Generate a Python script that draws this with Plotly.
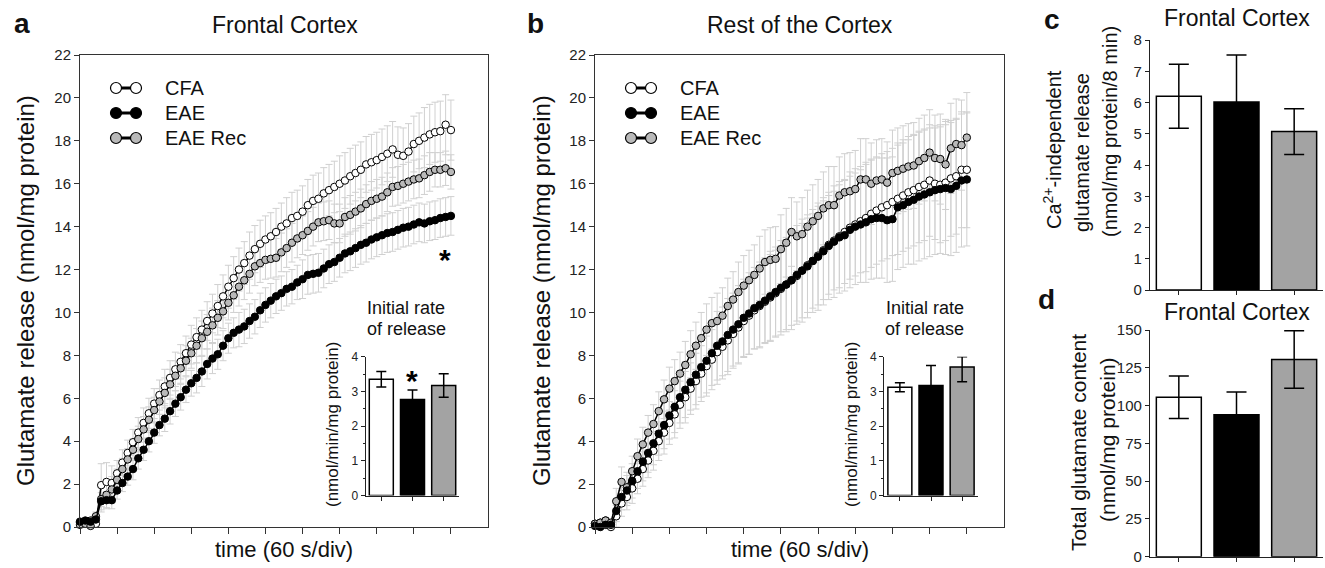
import plotly.graph_objects as go

W, H = 1325, 568


def px(x):
    return x / W


def py(y):
    return 1 - y / H


FONT = "Liberation Sans, Arial, Helvetica, sans-serif"
AX = "#333333"
ERR_GREY = "#d0d0d0"
GREY_MARK = "#b9b9b9"

# ---------------- data ----------------
TIME_MIN = [round(i / 7, 4) for i in range(71)]          # sample times (min)
TIME_TICKS = [0, 1, 2, 3, 4, 5, 6, 7, 8, 9, 10]

GROUPS = ["CFA", "EAE", "EAE Rec"]
BAR_FILLS = ["white", "black", "#a3a3a3"]
MARK_FILLS = ["white", "black", GREY_MARK]

# panel a : Frontal Cortex
A_CFA = [0.2, 0.25, 0.3, 0.15, 1.95, 2.1, 2.05, 2.5, 3.0, 3.45,
         3.95, 4.4, 4.85, 5.3, 5.75, 6.15, 6.55, 6.95, 7.35, 7.7,
         8.1, 8.5, 8.85, 9.2, 9.6, 9.95, 10.3, 10.75, 11.2, 11.6,
         12.0, 12.3, 12.65, 12.95, 13.2, 13.4, 13.55, 13.75, 14.0, 14.15,
         14.4, 14.5, 14.7, 15.0, 15.2, 15.3, 15.55, 15.7, 15.85, 16.0,
         16.15, 16.35, 16.5, 16.65, 16.9, 17.0, 17.1, 17.25, 17.4, 17.6,
         17.35, 17.3, 17.5, 17.85, 18.0, 18.15, 18.3, 18.4, 18.45, 18.75,
         18.5]
A_EAE = [0.25, 0.3, 0.25, 0.35, 1.2, 1.25, 1.25, 1.7, 2.05, 2.35,
         2.7, 3.2, 3.6, 4.0, 4.4, 4.75, 5.05, 5.4, 5.75, 6.05,
         6.4, 6.7, 6.95, 7.25, 7.6, 7.85, 8.05, 8.45, 8.8, 9.05,
         9.2, 9.35, 9.6, 9.8, 10.1, 10.35, 10.55, 10.75, 10.9, 11.1,
         11.2, 11.4, 11.55, 11.75, 11.8, 11.85, 12.05, 12.25, 12.35, 12.55,
         12.75, 12.85, 13.0, 13.15, 13.25, 13.4, 13.5, 13.6, 13.7, 13.75,
         13.85, 13.95, 14.0, 14.1, 14.2, 14.15, 14.25, 14.3, 14.4, 14.45,
         14.5]
A_REC = [0.1, 0.15, 0.05, 0.5, 1.3, 1.5, 1.75, 2.2, 2.7, 3.15,
         3.6, 4.1, 4.55, 5.0, 5.45, 5.85, 6.25, 6.65, 7.05, 7.4,
         7.75, 8.1, 8.45, 8.8, 9.1, 9.4, 9.75, 10.05, 10.45, 10.8,
         11.2, 11.5, 11.8, 12.15, 12.3, 12.45, 12.5, 12.55, 12.8, 13.0,
         13.25, 13.45, 13.6, 13.8, 14.0, 14.2, 14.25, 14.3, 14.15, 14.15,
         14.45, 14.55, 14.7, 14.85, 15.05, 15.2, 15.3, 15.4, 15.6, 15.85,
         15.9, 16.0, 16.1, 16.2, 16.25, 16.4, 16.55, 16.65, 16.65, 16.72,
         16.55]
A_CFA_ERR = [0.1, 0.1, 0.1, 0.2, 1.0, 0.9, 0.8,
             0.6, 0.6, 0.6, 0.6, 0.7, 0.7, 0.7,
             0.7, 0.7, 0.8, 0.8, 0.8, 0.8, 0.8,
             0.9, 0.9, 0.9, 0.9, 0.9, 1.0, 1.0,
             1.0, 1.0, 1.0, 1.0, 1.1, 1.1, 1.1,
             1.1, 1.1, 1.1, 1.1, 1.2, 1.2, 1.2,
             1.2, 1.2, 1.2, 1.2, 1.2, 1.2, 1.2,
             1.3, 1.3, 1.3, 1.3, 1.3, 1.3, 1.3,
             1.3, 1.3, 1.3, 1.3, 1.3, 1.3, 1.3,
             1.3, 1.3, 1.4, 1.4, 1.4, 1.4, 1.4, 1.4]
A_EAE_ERR = [0.1, 0.1, 0.1, 0.1, 0.4, 0.4, 0.4,
             0.4, 0.4, 0.4, 0.5, 0.5, 0.5, 0.5,
             0.5, 0.5, 0.6, 0.6, 0.6, 0.6, 0.6,
             0.6, 0.7, 0.7, 0.7, 0.7, 0.7, 0.7,
             0.7, 0.7, 0.8, 0.8, 0.8, 0.8, 0.8,
             0.8, 0.8, 0.8, 0.8, 0.8, 0.8, 0.8,
             0.9, 0.9, 0.9, 0.9, 0.9, 0.9, 0.9,
             0.9, 0.9, 0.9, 0.9, 0.9, 0.9, 0.9,
             0.9, 0.9, 0.9, 0.9, 0.9, 0.9, 0.9,
             0.9, 0.9, 0.9, 0.9, 0.9, 0.9, 0.9, 0.9]
A_REC_ERR = [0.1, 0.1, 0.1, 0.2, 0.6, 0.6, 0.6,
             0.5, 0.5, 0.5, 0.5, 0.6, 0.6, 0.6,
             0.6, 0.6, 0.7, 0.7, 0.7, 0.7, 0.7,
             0.7, 0.8, 0.8, 0.8, 0.8, 0.8, 0.8,
             0.8, 0.8, 0.9, 0.9, 0.9, 0.9, 0.9,
             0.9, 0.9, 0.9, 0.9, 0.9, 0.9, 0.9,
             0.9, 0.9, 0.9, 0.9, 0.9, 0.9, 0.9,
             0.9, 0.9, 0.9, 0.9, 0.9, 0.9, 0.9,
             0.9, 0.9, 0.9, 0.9, 0.9, 0.9, 0.9,
             0.9, 0.9, 0.9, 0.9, 0.8, 0.8, 0.8, 0.8]

# panel b : Rest of the Cortex
B_CFA = [0.15, 0.2, 0.3, 0.0, 0.5, 1.1, 1.4, 1.8, 2.25, 2.7,
         3.1, 3.55, 4.0, 4.4, 4.85, 5.25, 5.7, 6.05, 6.45, 6.8,
         7.15, 7.5, 7.8, 8.15, 8.4, 8.7, 9.0, 9.3, 9.6, 9.85,
         10.1, 10.3, 10.5, 10.7, 10.9, 11.1, 11.3, 11.5, 11.7, 11.95,
         12.2, 12.4, 12.65, 12.9, 13.15, 13.35, 13.55, 13.75, 13.95, 14.1,
         14.25, 14.4, 14.6, 14.75, 14.9, 15.0, 15.15, 15.3, 15.45, 15.6,
         15.7, 15.85, 15.95, 16.15, 16.0, 15.95, 16.05, 16.25, 16.35, 16.65,
         16.65]
B_EAE = [0.05, 0.0, 0.1, 0.1, 0.75, 1.4, 1.7, 2.15, 2.6, 3.05,
         3.45, 3.9, 4.35, 4.75, 5.2, 5.6, 6.05, 6.4, 6.75, 7.1,
         7.45, 7.75, 8.1, 8.45, 8.65, 8.95, 9.2, 9.45, 9.75, 9.95,
         10.2, 10.35, 10.55, 10.75, 10.95, 11.15, 11.3, 11.5, 11.75, 11.95,
         12.15, 12.4, 12.6, 12.85, 13.1, 13.3, 13.5, 13.6, 13.85, 14.0,
         14.1, 14.2, 14.35, 14.4, 14.4, 14.3, 14.35, 14.9, 15.0, 15.15,
         15.25, 15.4, 15.5, 15.6, 15.7, 15.75, 15.8, 15.75, 15.9, 16.15,
         16.2]
B_REC = [0.15, 0.2, 0.3, 0.2, 1.2, 2.1, 1.85, 2.6, 3.3, 3.85,
         4.4, 4.8, 5.4, 5.95, 6.45, 6.8, 7.15, 7.55, 8.05, 8.45,
         8.8, 9.2, 9.5, 9.6, 9.85, 10.3, 10.6, 10.95, 11.25, 11.5,
         11.75, 12.05, 12.35, 12.45, 12.5, 12.95, 13.25, 13.75, 13.55, 13.65,
         14.0, 14.25, 14.5, 14.85, 15.0, 15.0, 15.45, 15.6, 15.65, 15.75,
         16.2, 16.2, 16.0, 16.15, 16.2, 16.05, 16.5, 16.6, 16.7, 16.8,
         16.85, 17.05, 17.2, 17.45, 17.2, 17.15, 16.9, 17.65, 17.85, 17.8,
         18.15]
B_CFA_ERR = [0.1, 0.1, 0.1, 0.1, 0.5, 0.6, 0.6,
             0.7, 0.7, 0.8, 0.8, 0.9, 0.9, 1.0,
             1.0, 1.1, 1.1, 1.2, 1.2, 1.3, 1.3,
             1.4, 1.4, 1.5, 1.5, 1.6, 1.6, 1.7,
             1.7, 1.8, 1.8, 1.9, 1.9, 2.0, 2.0,
             2.0, 2.1, 2.1, 2.1, 2.2, 2.2, 2.2,
             2.3, 2.3, 2.3, 2.3, 2.4, 2.4, 2.4,
             2.4, 2.4, 2.5, 2.5, 2.5, 2.5, 2.5,
             2.5, 2.6, 2.6, 2.6, 2.6, 2.6, 2.6,
             2.6, 2.6, 2.7, 2.7, 2.7, 2.7, 2.7, 2.7]
B_EAE_ERR = [0.1, 0.1, 0.1, 0.1, 0.5, 0.6, 0.7,
             0.8, 0.8, 0.9, 0.9, 1.0, 1.0, 1.1,
             1.1, 1.2, 1.2, 1.3, 1.3, 1.4, 1.4,
             1.5, 1.5, 1.6, 1.6, 1.7, 1.7, 1.8,
             1.8, 1.9, 1.9, 2.0, 2.0, 2.1, 2.1,
             2.2, 2.2, 2.3, 2.3, 2.4, 2.4, 2.4,
             2.5, 2.5, 2.5, 2.6, 2.6, 2.6, 2.7,
             2.7, 2.7, 2.8, 2.8, 2.8, 2.8, 2.9,
             2.9, 2.9, 2.9, 2.9, 3.0, 3.0, 3.0,
             3.0, 3.0, 3.0, 3.1, 3.1, 3.1, 3.1, 3.1]
B_REC_ERR = [0.1, 0.1, 0.1, 0.1, 0.6, 0.7, 0.7,
             0.7, 0.8, 0.8, 0.8, 0.9, 0.9, 0.9,
             1.0, 1.0, 1.0, 1.1, 1.1, 1.1, 1.2,
             1.2, 1.2, 1.3, 1.3, 1.3, 1.3, 1.4,
             1.4, 1.4, 1.4, 1.5, 1.5, 1.5, 1.5,
             1.6, 1.6, 1.6, 1.6, 1.7, 1.7, 1.7,
             1.7, 1.7, 1.8, 1.8, 1.8, 1.8, 1.8,
             1.8, 1.9, 1.9, 1.9, 1.9, 1.9, 1.9,
             2.0, 2.0, 2.0, 2.0, 2.0, 2.0, 2.0,
             2.0, 2.0, 2.1, 2.1, 2.1, 2.1, 2.1, 2.1]

# insets: initial rate of release (nmol/min/mg protein)
A_RATE = [3.35, 2.77, 3.17]
A_RATE_ERR = [0.22, 0.27, 0.34]
B_RATE = [3.12, 3.17, 3.70]
B_RATE_ERR_UP = [0.13, 0.58, 0.30]
B_RATE_ERR_DN = [0.13, 0.58, 0.42]

# panel c : Ca2+-independent release ; panel d : total glutamate content
C_VALUES = [6.20, 6.02, 5.07]
C_ERR = [1.02, 1.50, 0.73]
D_VALUES = [105.5, 94.0, 130.5]
D_ERR = [14.0, 15.0, 19.0]

# ---------------- figure ----------------
fig = go.Figure()

SERIES_A = [(A_CFA, A_CFA_ERR, 0), (A_REC, A_REC_ERR, 2), (A_EAE, A_EAE_ERR, 1)]
SERIES_B = [(B_CFA, B_CFA_ERR, 0), (B_REC, B_REC_ERR, 2), (B_EAE, B_EAE_ERR, 1)]

for series, xa, ya in [(SERIES_A, "x", "y"), (SERIES_B, "x3", "y3")]:
    for vals, err, g in series:
        fig.add_trace(go.Scatter(
            x=TIME_MIN, y=vals, mode="markers", xaxis=xa, yaxis=ya,
            marker=dict(size=1, color="rgba(0,0,0,0)"),
            error_y=dict(type="data", array=err, color=ERR_GREY, thickness=1, width=3.5),
            hoverinfo="skip", cliponaxis=False))
    for vals, err, g in series:
        fig.add_trace(go.Scatter(
            x=TIME_MIN, y=vals, mode="lines+markers", xaxis=xa, yaxis=ya, name=GROUPS[g],
            line=dict(color="black", width=1.5),
            marker=dict(size=7.5, color=MARK_FILLS[g], line=dict(color="black", width=1)),
            cliponaxis=False))

fig.add_trace(go.Bar(x=GROUPS, y=A_RATE, xaxis="x2", yaxis="y2", width=0.77,
                     marker=dict(color=BAR_FILLS, line=dict(color="black", width=1.5)),
                     error_y=dict(type="data", array=A_RATE_ERR, color="black", thickness=1.5, width=5)))
fig.add_trace(go.Bar(x=GROUPS, y=B_RATE, xaxis="x4", yaxis="y4", width=0.77,
                     marker=dict(color=BAR_FILLS, line=dict(color="black", width=1.5)),
                     error_y=dict(type="data", array=B_RATE_ERR_UP, arrayminus=B_RATE_ERR_DN,
                                  symmetric=False, color="black", thickness=1.5, width=5)))
fig.add_trace(go.Bar(x=GROUPS, y=C_VALUES, xaxis="x5", yaxis="y5", width=0.78,
                     marker=dict(color=BAR_FILLS, line=dict(color="black", width=1.5)),
                     error_y=dict(type="data", array=C_ERR, color="black", thickness=1.5, width=10)))
fig.add_trace(go.Bar(x=GROUPS, y=D_VALUES, xaxis="x6", yaxis="y6", width=0.78,
                     marker=dict(color=BAR_FILLS, line=dict(color="black", width=1.5)),
                     error_y=dict(type="data", array=D_ERR, color="black", thickness=1.5, width=10)))


def main_x(dom, anchor):
    return dict(domain=dom, anchor=anchor, range=[0, 11], tickvals=TIME_TICKS,
                ticks="outside", ticklen=6, tickcolor=AX, showticklabels=False,
                showline=True, linecolor=AX, linewidth=1, mirror=True,
                showgrid=False, zeroline=False, automargin=False)


def main_y(anchor):
    return dict(domain=[py(527), py(55)], anchor=anchor, range=[0, 22], dtick=2, tick0=0,
                ticks="outside", ticklen=5, tickcolor=AX, showline=True, linecolor=AX,
                linewidth=1, mirror=True, showgrid=False, zeroline=False, automargin=False,
                tickfont=dict(size=15, color="#222"))


def bar_x(dom, anchor):
    return dict(domain=dom, anchor=anchor, range=[-0.5, 2.5], type="category",
                ticks="outside", ticklen=4, tickcolor="#222", showticklabels=False,
                showline=True, linecolor="#222", linewidth=1.2, showgrid=False,
                zeroline=False, automargin=False)


def bar_y(dom, anchor, rng, dt, size, minor=None):
    d = dict(domain=dom, anchor=anchor, range=rng, dtick=dt, tick0=0,
             ticks="outside", ticklen=4, tickcolor="#222", showline=True, linecolor="#222",
             linewidth=1.2, showgrid=False, zeroline=False, automargin=False,
             tickfont=dict(size=size, color="#222"))
    if minor:
        d["minor"] = minor
    return d


inset_minor = dict(ticks="outside", dtick=0.5, ticklen=2, tickcolor="#222")

fig.update_layout(
    template="none",
    width=W, height=H, margin=dict(l=0, r=0, t=0, b=0, pad=0), autosize=False,
    paper_bgcolor="white", plot_bgcolor="rgba(0,0,0,0)",
    showlegend=False, font=dict(family=FONT, color="#111"),
    xaxis=main_x([px(80), px(488)], "y"),
    yaxis=main_y("x"),
    xaxis2=bar_x([px(365.7), px(459.3)], "y2"),
    yaxis2=bar_y([py(495.5), py(356.7)], "x2", [0, 4], 1, 12, inset_minor),
    xaxis3=main_x([px(595), px(1004)], "y3"),
    yaxis3=main_y("x3"),
    xaxis4=bar_x([px(884.3), px(977.7)], "y4"),
    yaxis4=bar_y([py(495.5), py(356.7)], "x4", [0, 4], 1, 12, inset_minor),
    xaxis5=bar_x([px(1150), px(1323)], "y5"),
    yaxis5=bar_y([py(290), py(40)], "x5", [0, 8], 1, 15),
    xaxis6=bar_x([px(1150), px(1323)], "y6"),
    yaxis6=bar_y([py(556.7), py(330)], "x6", [0, 150], 25, 15),
)

ann = []


def text(x, y, s, size, bold=False, angle=0, xanchor="center"):
    ann.append(dict(x=px(x), y=py(y), xref="paper", yref="paper", text=s, showarrow=False,
                    textangle=angle, xanchor=xanchor, yanchor="middle",
                    font=dict(size=size, family=FONT, color="#111",
                              weight="bold" if bold else "normal")))


# panel letters and titles
text(22, 23, "a", 28, bold=True)
text(535, 23, "b", 28, bold=True)
text(1052, 19, "c", 28, bold=True)
text(1046, 299, "d", 28, bold=True)
text(285, 25, "Frontal Cortex", 23)
text(800, 25, "Rest of the Cortex", 23)
text(1237, 18, "Frontal Cortex", 23)
text(1237, 312, "Frontal Cortex", 23)

# axis titles
text(25, 291, "Glutamate release (nmol/mg protein)", 24, angle=-90)
text(541, 291, "Glutamate release (nmol/mg protein)", 24, angle=-90)
text(284, 549, "time (60 s/div)", 22)
text(800, 549, "time (60 s/div)", 22)
text(333, 425, "(nmol/min/mg protein)", 17, angle=-90)
text(852, 425, "(nmol/min/mg protein)", 17, angle=-90)
text(406, 308, "Initial rate", 18)
text(406, 329, "of release", 18)
text(925, 308, "Initial rate", 18)
text(925, 329, "of release", 18)
text(1052, 150, "Ca<sup>2+</sup>-independent", 20, angle=-90)
text(1082, 153, "glutamate release", 20, angle=-90)
text(1110, 132, "(nmol/mg protein/8 min)", 20, angle=-90)
text(1078, 443, "Total glutamate content", 21, angle=-90)
text(1107, 440, "(nmol/mg protein)", 21, angle=-90)

# legends (text)
for lx, names in [(163, GROUPS), (678, GROUPS)]:
    for k, nm in enumerate(names):
        text(lx, 88 + 25 * k, nm, 20, xanchor="left")

# significance stars
ann.append(dict(x=9.84, y=12.45, xref="x", yref="y", text="*", showarrow=False,
                font=dict(size=30, family=FONT, color="black", weight="bold")))
ann.append(dict(x="EAE", y=3.3, xref="x2", yref="y2", text="*", showarrow=False,
                font=dict(size=30, family=FONT, color="black", weight="bold")))

fig.update_layout(annotations=ann)

# legend glyphs (two circles joined by a bar)
shapes = []
for cx0, cx1 in [(116, 136), (631, 651)]:
    for k in range(3):
        cy = 88 + 25 * k
        r = 5.5
        shapes.append(dict(type="line", xref="paper", yref="paper",
                           x0=px(cx0), x1=px(cx1), y0=py(cy), y1=py(cy),
                           line=dict(color="black", width=3), layer="above"))
        for cx in (cx0, cx1):
            shapes.append(dict(type="circle", xref="paper", yref="paper",
                               x0=px(cx - r), x1=px(cx + r), y0=py(cy + r), y1=py(cy - r),
                               fillcolor=MARK_FILLS[k],
                               line=dict(color="black", width=1.2), layer="above"))
fig.update_layout(shapes=shapes)

fig.write_html("out.html", config={"displayModeBar": False},
               post_script="document.body.style.margin='0';document.body.style.overflow='hidden';")
